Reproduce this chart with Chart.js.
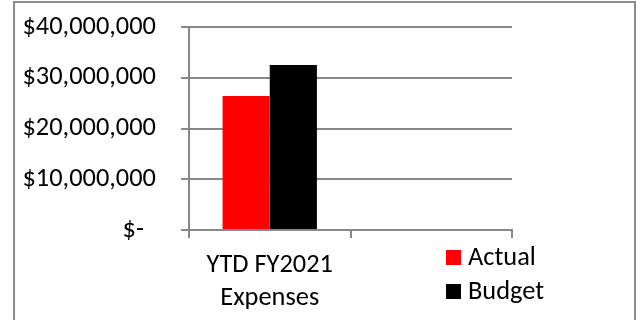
<!DOCTYPE html>
<html>
<head>
<meta charset="utf-8">
<script src="https://cdn.jsdelivr.net/npm/chart.js@4/dist/chart.umd.min.js"></script>
<style>
    html, body { margin: 0; padding: 0; background: #fff; }
    #chart { display: block; }
</style>
</head>
<body>
<canvas id="chart" width="642" height="320"></canvas>
<script>
    // Chart data
    const categories = [['YTD FY2021', 'Expenses'], ''];
    const seriesNames = ['Actual', 'Budget'];
    const actualValues = [26400000, null];
    const budgetValues = [32500000, null];
    const yTicks = [0, 10000000, 20000000, 30000000, 40000000];

    const seriesColors = ['#ff0000', '#000000'];
    const axisGrey = '#888888';
    const fontFamily = "Calibri, Carlito, 'Liberation Sans', Arial, sans-serif";
    const fontSize = 26.4;

    // Custom legend and outer frame
    const sideLegend = {
        id: 'sideLegend',
        afterDraw(chart) {
            const ctx = chart.ctx;
            ctx.save();
            ctx.strokeStyle = '#8c8c8c';
            ctx.lineWidth = 2;
            ctx.beginPath();
            ctx.moveTo(14, 330);
            ctx.lineTo(14, 2);
            ctx.lineTo(635, 2);
            ctx.lineTo(635, 330);
            ctx.stroke();

            ctx.font = fontSize + 'px ' + fontFamily;
            ctx.textBaseline = 'middle';
            ctx.textAlign = 'left';
            chart.data.datasets.forEach(function(ds, i) {
                const y = 257 + i * 34;
                ctx.fillStyle = ds.backgroundColor;
                ctx.fillRect(446, y - 7, 15, 15);
                ctx.fillStyle = '#000';
                ctx.fillText(ds.label, 468, y + 1);
            });
            ctx.restore();
        }
    };

    const ctx = document.getElementById('chart').getContext('2d');
    new Chart(ctx, {
        type: 'bar',
        data: {
            labels: categories,
            datasets: [
                { label: seriesNames[0], data: actualValues, backgroundColor: seriesColors[0] },
                { label: seriesNames[1], data: budgetValues, backgroundColor: seriesColors[1] }
            ]
        },
        options: {
            responsive: false,
            animation: false,
            events: [],
            layout: { padding: { top: 27, right: 130, left: 0, bottom: 0 } },
            datasets: {
                bar: { categoryPercentage: 0.584, barPercentage: 1.0 }
            },
            plugins: {
                legend: { display: false },
                tooltip: { enabled: false }
            },
            scales: {
                x: {
                    grid: {
                        offset: true,
                        drawOnChartArea: false,
                        drawTicks: true,
                        tickLength: 8,
                        color: axisGrey,
                        lineWidth: 2
                    },
                    border: { color: axisGrey, width: 2 },
                    ticks: {
                        color: '#000',
                        padding: 11,
                        maxRotation: 0,
                        font: { family: fontFamily, size: fontSize, lineHeight: 1.25 }
                    },
                    afterFit: function(scale) {
                        scale.height = 90;
                        scale.paddingLeft = 0;
                        scale.paddingRight = 0;
                    }
                },
                y: {
                    min: 0,
                    max: 40000000,
                    afterBuildTicks: function(scale) {
                        scale.ticks = yTicks.map(v => ({ value: v }));
                    },
                    grid: {
                        color: axisGrey,
                        lineWidth: 2,
                        tickLength: 8
                    },
                    border: { color: axisGrey, width: 2 },
                    ticks: {
                        color: '#000',
                        padding: 25,
                        font: { family: fontFamily, size: fontSize },
                        callback: function(value) {
                            if (value === 0) return '$-  ';
                            return '$' + value.toLocaleString('en-US');
                        }
                    },
                    afterFit: function(scale) {
                        scale.width = 189;
                        scale.paddingTop = 0;
                        scale.paddingBottom = 0;
                    }
                }
            }
        },
        plugins: [sideLegend]
    });
</script>
</body>
</html>
